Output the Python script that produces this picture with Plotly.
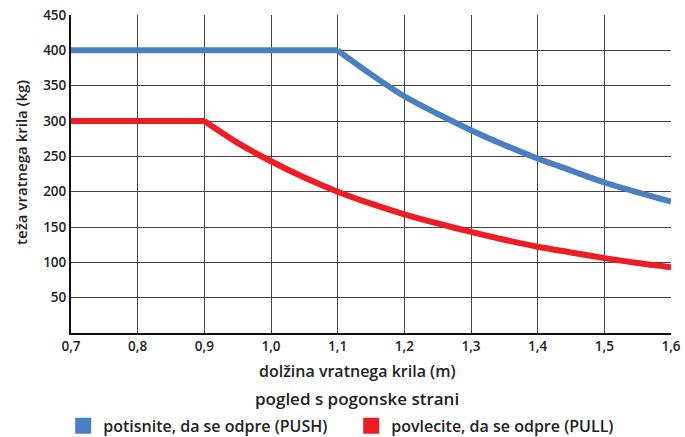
import plotly.graph_objects as go

# data
push_x = [0.7, 0.8, 0.9, 1.0, 1.1, 1.15, 1.2, 1.25, 1.3, 1.35, 1.4, 1.45, 1.5, 1.55, 1.6]
push_y = [400, 400, 400, 400, 400, 366, 335, 310, 287, 266, 247, 230, 213, 199, 186]
pull_x = [0.7, 0.8, 0.9, 0.95, 1.0, 1.05, 1.1, 1.15, 1.2, 1.25, 1.3, 1.35, 1.4, 1.45, 1.5, 1.55, 1.6]
pull_y = [300, 300, 300, 269, 243, 220, 200, 183, 168, 155, 143, 132, 122, 114, 106, 99, 93]

push_name = "potisnite, da se odpre (PUSH)"
pull_name = "povlecite, da se odpre (PULL)"
x_title = "dolžina vratnega krila (m)"
sub_title = "pogled s pogonske strani"
y_title = "teža vratnega krila (kg)"

x_ticks = [0.7, 0.8, 0.9, 1.0, 1.1, 1.2, 1.3, 1.4, 1.5, 1.6]
x_ticktext = ["0,7", "0,8", "0,9", "1,0", "1,1", "1,2", "1,3", "1,4", "1,5", "1,6"]
y_ticks = [50, 100, 150, 200, 250, 300, 350, 400, 450]

BLUE = "#4a7fc1"
RED = "#ee1c25"
FONT = "Open Sans"
TXT = "#222222"


def add_series(xs, ys, color):
    # flat part (linear) up to the corner, then the smooth falling part
    k = max(i for i, v in enumerate(ys) if v == ys[0])
    fig.add_trace(go.Scatter(x=xs[:k + 1], y=ys[:k + 1], mode="lines",
                             line=dict(color=color, width=6), showlegend=False, hoverinfo="skip"))
    fig.add_trace(go.Scatter(x=xs[k:], y=ys[k:], mode="lines",
                             line=dict(color=color, width=6, shape="spline", smoothing=0.8),
                             showlegend=False, hoverinfo="skip"))


fig = go.Figure()
add_series(push_x, push_y, BLUE)
add_series(pull_x, pull_y, RED)
# legend entries with square markers
fig.add_trace(go.Scatter(x=[None], y=[None], mode="markers", name=push_name,
                         marker=dict(symbol="square", size=16, color=BLUE)))
fig.add_trace(go.Scatter(x=[None], y=[None], mode="markers", name=pull_name,
                         marker=dict(symbol="square", size=16, color=RED)))

fig.update_layout(
    width=685, height=437,
    margin=dict(l=71, r=14, t=15, b=104, autoexpand=False),
    plot_bgcolor="white", paper_bgcolor="white",
    font=dict(family=FONT, size=13, color=TXT, weight=600),
    legend=dict(orientation="h", x=-0.013, xanchor="left", y=-0.292, yanchor="middle",
                font=dict(family=FONT, size=16, color=TXT, weight=600), itemwidth=30,
                entrywidth=243, entrywidthmode="pixels", tracegroupgap=0),
    annotations=[
        dict(text=x_title, xref="paper", yref="paper", x=0.477, y=-0.1195,
             xanchor="center", yanchor="middle", showarrow=False,
             font=dict(family=FONT, size=16, color=TXT, weight=600)),
        dict(text=sub_title, xref="paper", yref="paper", x=0.477, y=-0.2075,
             xanchor="center", yanchor="middle", showarrow=False,
             font=dict(family=FONT, size=17, color=TXT, weight=600)),
        dict(text=y_title, xref="paper", yref="paper", x=-0.0833, y=0.535,
             xanchor="center", yanchor="middle", showarrow=False, textangle=-90,
             font=dict(family=FONT, size=15, color=TXT, weight=600)),
    ],
)
fig.update_xaxes(range=[0.7, 1.6], tickvals=x_ticks, ticktext=x_ticktext,
                 showgrid=True, gridcolor="#444444", gridwidth=1.2,
                 showline=True, linecolor="#111111", linewidth=2,
                 ticks="", zeroline=False, automargin=False, ticklabeloverflow="allow",
                 tickfont=dict(size=13.5, color=TXT, weight=600))
fig.update_yaxes(range=[0, 450], tickvals=y_ticks,
                 showgrid=True, gridcolor="#444444", gridwidth=1.2,
                 showline=True, linecolor="#111111", linewidth=2,
                 ticks="", zeroline=False, automargin=False, ticklabeloverflow="allow",
                 tickfont=dict(size=13.5, color=TXT, weight=600))

fig.write_html("out.html", config={"displayModeBar": False},
               post_script="document.body.style.margin='0';document.body.style.overflow='hidden';")
